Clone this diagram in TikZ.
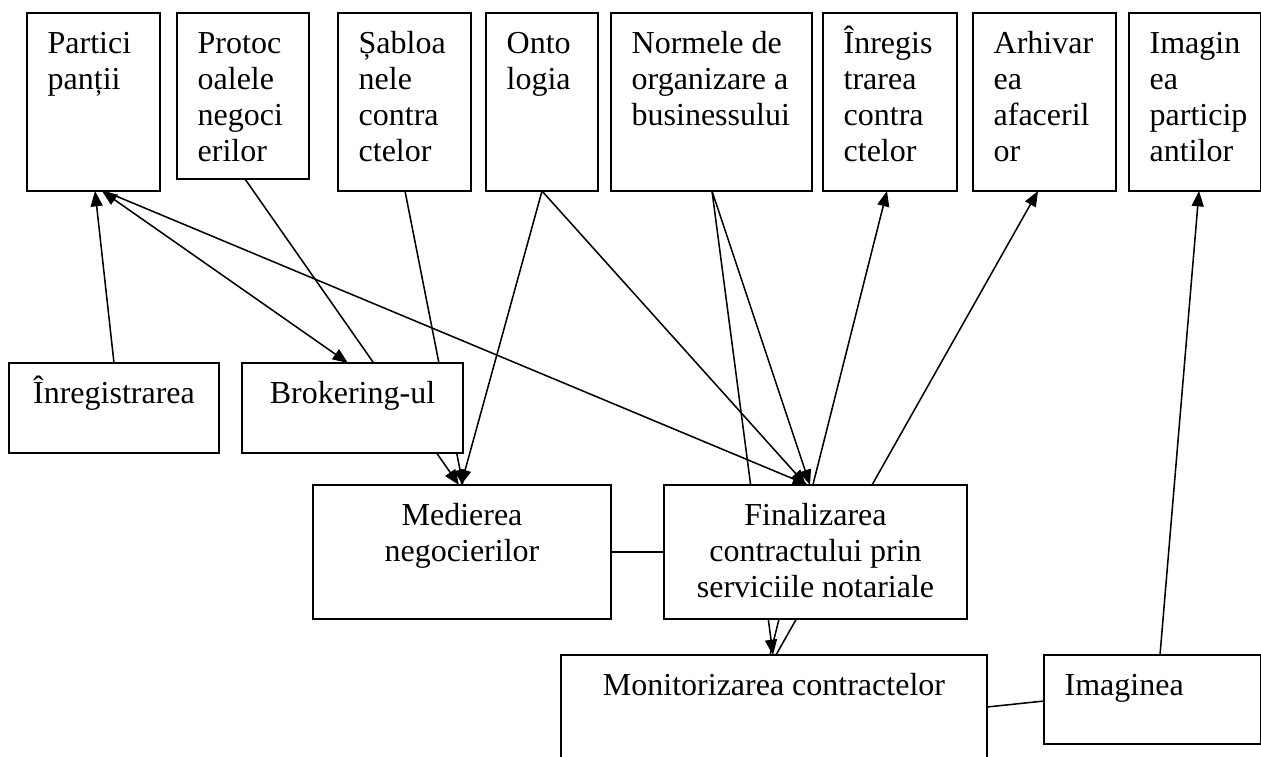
\documentclass[tikz,border=0pt]{standalone}
\usepackage{fontspec}
\setmainfont{Liberation Serif}
\usetikzlibrary{arrows.meta,calc}

\pgfdeclarelayer{links}
\pgfsetlayers{links,main}

% one drawing unit = one screen pixel
\newdimen\unitpx \unitpx=0.75pt

% text alignment inside the boxes
\newcommand\alnleft{\raggedright\leftskip=15.5pt\relax}
\newcommand\alncentre{\centering}

% \cellnode{name}{x1}{y1}{x2}{y2}{alignment}{text}
% a white box from (x1,y1) to (x2,y2), its text hung from the top edge
\newcommand\cellnode[7]{%
  \node[cell, anchor=north west] (#1) at (#2,#3)
    {\parbox[c][\dimexpr\unitpx*(#5-#3)\relax][t]{\dimexpr\unitpx*(#4-#2)\relax}%
      {\fontsize{24pt}{27.2pt}\selectfont#6\rule{0pt}{30pt}#7}};}

\tikzset{
  cell/.style={draw=black, line width=1.3pt, fill=white, inner sep=0pt,
               outer sep=0pt, rectangle},
  link/.style={draw=black, line width=1.15pt},
  head/.style={-{Triangle[length=11.5pt,width=9pt]}},
  heads/.style={{Triangle[length=11.5pt,width=9pt]}-{Triangle[length=11.5pt,width=9pt]}}
}

\begin{document}
\begin{tikzpicture}[x=0.75pt, y=-0.75pt]
\useasboundingbox (0,0) rectangle (1261,757);

% upper row
\cellnode{partici}{27}{13}{160}{191}{\alnleft}{Partici\\panții}
\cellnode{protoc}{177}{13}{309}{179}{\alnleft}{Protoc\\oalele\\negoci\\erilor}
\cellnode{sablon}{338}{13}{471}{191}{\alnleft}{Șabloa\\nele\\contra\\ctelor}
\cellnode{onto}{486}{13}{598}{191}{\alnleft}{Onto\\logia}
\cellnode{norme}{611}{13}{812}{191}{\alnleft}{Normele de\\organizare a\\businessului}
\cellnode{inregc}{823}{13}{957}{191}{\alnleft}{Înregis\\trarea\\contra\\ctelor}
\cellnode{arhiv}{973}{13}{1116}{191}{\alnleft}{Arhivar\\ea\\afaceril\\or}
\cellnode{imagp}{1129}{13}{1261}{191}{\alnleft}{Imagin\\ea\\particip\\antilor}

% services
\cellnode{inreg}{9}{363}{219}{453}{\alncentre}{Înregistrarea}
\cellnode{brok}{242}{363}{463}{453}{\alncentre}{Brokering-ul}
\cellnode{medi}{313}{485}{611}{619}{\alncentre}{Medierea\\negocierilor}
\cellnode{final}{664}{485}{967}{619}{\alncentre}{Finalizarea\\contractului prin\\serviciile notariale}
\cellnode{monit}{561}{655}{987}{790}{\alncentre}{Monitorizarea contractelor}
\cellnode{imag}{1044}{655}{1261}{744}{\alnleft}{Imaginea}

\begin{pgfonlayer}{links}
  \draw[link, head] ($(inreg.north west)+(105,0)$) -- ($(partici.south west)+(68,0)$);
  \draw[link, heads] ($(partici.south west)+(75,0)$) -- ($(brok.north west)+(106,0)$);
  \draw[link, head] ($(protoc.south west)+(68,0)$) -- ($(medi.north west)+(146,0)$);
  \draw[link, head] ($(sablon.south west)+(67,0)$) -- ($(medi.north west)+(150,0)$);
  \draw[link, head] ($(onto.south west)+(56,0)$) -- ($(medi.north west)+(148,0)$);
  \draw[link, head] ($(partici.south west)+(77,0)$) -- ($(final.north west)+(144,0)$);
  \draw[link, head] ($(onto.south west)+(56,0)$) -- ($(final.north west)+(142,0)$);
  \draw[link, head] ($(norme.south west)+(101,0)$) -- ($(final.north west)+(146,0)$);
  \draw[link, head] ($(norme.south west)+(101,0)$) -- ($(monit.north west)+(212,0)$);
  \draw[link, head] ($(monit.north west)+(209,0)$) -- ($(inregc.south west)+(64,0)$);
  \draw[link, head] ($(monit.north west)+(215,0)$) -- ($(arhiv.south west)+(65,0)$);
  \draw[link, head] ($(imag.north west)+(116,0)$) -- ($(imagp.south west)+(70,0)$);
  \draw[link] (medi.east) -- (final.west);
  \draw[link] ($(monit.north east)+(0,52)$) -- ($(imag.north west)+(0,46)$);
\end{pgfonlayer}
\end{tikzpicture}
\end{document}
